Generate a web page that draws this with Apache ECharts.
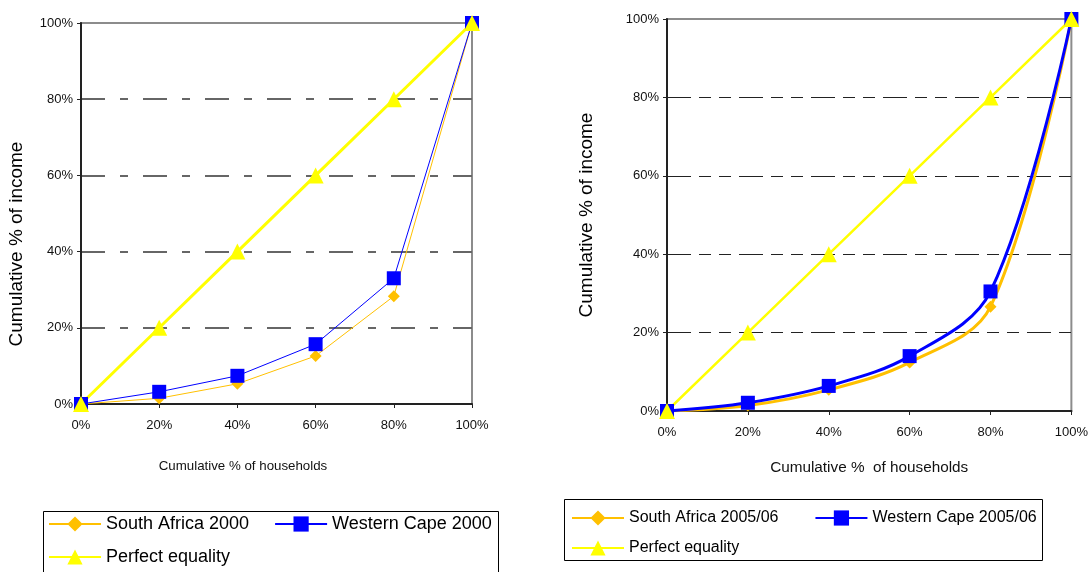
<!DOCTYPE html>
<html>
<head>
<meta charset="utf-8">
<script src="https://cdn.jsdelivr.net/npm/echarts@6/dist/echarts.min.js"></script>
<style>
  html, body { margin: 0; padding: 0; background: #fff; }
  #chart { width: 1091px; height: 572px; }
</style>
</head>
<body>
<div id="chart"></div>
<script>
// Cumulative share of households (x) against cumulative share of income (y)
const householdShare = [0, 20, 40, 60, 80, 100];
const tickLabels = ['0%', '20%', '40%', '60%', '80%', '100%'];

// Lorenz curves, 2000
const southAfrica2000 = [0, 1.5, 5.3, 12.6, 28.3, 100];
const westernCape2000 = [0, 3.2, 7.4, 15.7, 33.0, 100];

// Lorenz curves, 2005/06
const southAfrica2005 = [0, 1.4, 5.4, 12.4, 26.6, 100];
const westernCape2005 = [0, 2.1, 6.4, 14.0, 30.5, 100];

// Line of perfect equality
const perfectEquality = [0, 20, 40, 60, 80, 100];

const pairs = ys => householdShare.map((x, i) => [x, ys[i]]);

const ORANGE = '#FFC000', BLUE = '#0000FF', YELLOW = '#FFFF00';
const FONT = 'Liberation Sans, Arial, sans-serif';
const NONE = 'rgba(0,0,0,0)';

const chart = echarts.init(document.getElementById('chart'));

function xAxisFor(gridIndex, title, nameGap, nameSize) {
  return {
    type: 'value', gridIndex, min: 0, max: 100, interval: 20,
    name: title, nameLocation: 'middle', nameGap,
    nameTextStyle: { fontFamily: FONT, fontSize: nameSize, color: '#111' },
    axisLine: { show: true, onZero: false, lineStyle: { color: '#222', width: 2 } },
    axisTick: { show: true, length: 4, lineStyle: { color: '#222', width: 1 } },
    axisLabel: { formatter: v => tickLabels[householdShare.indexOf(v)], fontFamily: FONT, fontSize: 13, color: '#111', margin: 15 },
    splitLine: { show: false }
  };
}

function yAxisFor(gridIndex, title, dash, gridColor, gridWidth, nameGap) {
  // the 100% line is left to the plot frame, so its colour is transparent
  const colors = [gridColor, gridColor, gridColor, gridColor, gridColor, NONE];
  return {
    type: 'value', gridIndex, min: 0, max: 100, interval: 20,
    name: title, nameLocation: 'middle', nameGap,
    nameTextStyle: { fontFamily: FONT, fontSize: 19, color: '#000' },
    axisLine: { show: true, onZero: false, lineStyle: { color: '#222', width: 2 } },
    axisTick: { show: true, length: 4, lineStyle: { color: '#222', width: 1 } },
    axisLabel: { formatter: '{value}%', fontFamily: FONT, fontSize: 13, color: '#111', margin: 8 },
    splitLine: { show: true, lineStyle: { color: colors, width: gridWidth, type: dash } }
  };
}

function lineSeries(name, data, idx, color, width, symbol, size, smooth) {
  return {
    name, type: 'line', xAxisIndex: idx, yAxisIndex: idx,
    data: pairs(data), smooth: smooth ? 0.35 : false,
    symbol, symbolSize: size, showSymbol: true,
    lineStyle: { color, width },
    itemStyle: { color, borderWidth: 0 },
    emphasis: { disabled: true },
    animation: false
  };
}

function legendAt(items, left, top, fontSize, gap) {
  return {
    data: items, left, top, orient: 'horizontal', itemGap: gap, padding: 0,
    itemWidth: 52, itemHeight: 19, selectedMode: false,
    textStyle: { fontFamily: FONT, fontSize, color: '#000' }
  };
}

const option = {
  backgroundColor: '#fff',
  animation: false,
  grid: [
    { left: 81, top: 23, width: 391, height: 381, show: true, borderColor: '#8c8c8c', borderWidth: 2, backgroundColor: 'transparent' },
    { left: 667, top: 19, width: 405, height: 392, show: true, borderColor: '#8c8c8c', borderWidth: 2, backgroundColor: 'transparent' }
  ],
  xAxis: [
    xAxisFor(0, '', 40, 13),
    xAxisFor(1, 'Cumulative %  of households', 49, 15.3)
  ],
  yAxis: [
    yAxisFor(0, '', [24, 15, 8, 15], '#666', 2, 56),
    yAxisFor(1, 'Cumulative % of income', [24, 8, 12, 8, 12, 8], '#222', 1, 71)
  ],
  legend: [
    legendAt(['South Africa 2000', 'Western Cape 2000'], 48, 515, 18, 25),
    legendAt(['Perfect equality'], 48, 548, 18, 25),
    legendAt(['South Africa 2005/06', 'Western Cape 2005/06'], 571, 510, 16, 36),
    legendAt(['Perfect equality '], 571, 540, 16, 36)
  ],
  graphic: [
    { type: 'text', x: 17, y: 244, rotation: Math.PI / 2, silent: true,
      style: { text: 'Cumulative % of income', fontFamily: FONT, fontSize: 19, fill: '#000', align: 'center', verticalAlign: 'middle' } },
    { type: 'text', x: 243, y: 466, silent: true,
      style: { text: 'Cumulative % of households', fontFamily: FONT, fontSize: 13.3, fill: '#111', align: 'center', verticalAlign: 'middle' } },
    { type: 'rect', silent: true, z: -1, shape: { x: 43.5, y: 511.5, width: 455, height: 70 }, style: { fill: 'none', stroke: '#000', lineWidth: 1 } },
    { type: 'rect', silent: true, z: -1, shape: { x: 564.5, y: 499.5, width: 478, height: 61 }, style: { fill: 'none', stroke: '#000', lineWidth: 1 } }
  ],
  series: [
    lineSeries('South Africa 2000', southAfrica2000, 0, ORANGE, 1, 'diamond', 12, false),
    lineSeries('Western Cape 2000', westernCape2000, 0, BLUE, 1, 'rect', 14, false),
    lineSeries('Perfect equality', perfectEquality, 0, YELLOW, 3, 'triangle', 16, false),
    lineSeries('South Africa 2005/06', southAfrica2005, 1, ORANGE, 3, 'diamond', 12, true),
    lineSeries('Western Cape 2005/06', westernCape2005, 1, BLUE, 3, 'rect', 14, true),
    lineSeries('Perfect equality ', perfectEquality, 1, YELLOW, 2.5, 'triangle', 16, false)
  ]
};

chart.setOption(option);
</script>
</body>
</html>
